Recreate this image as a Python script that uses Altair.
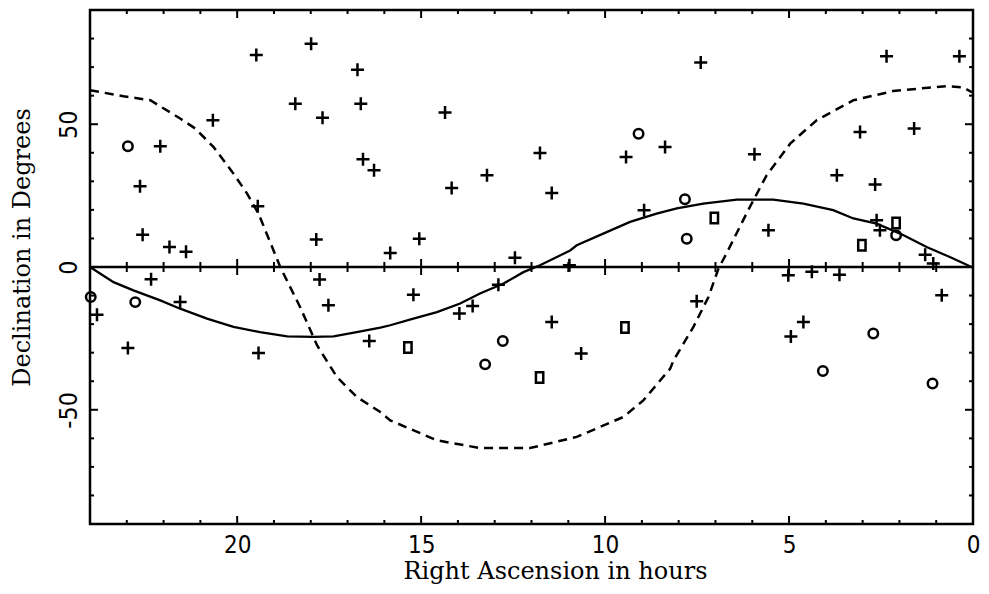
import altair as alt
import pandas as pd

# ---- scatter data (RA hours, Dec degrees) ----
plus_ra = [19.48, 17.99, 16.73, 18.42, 16.64, 17.68, 20.66, 22.09, 16.58, 16.28,
           22.64, 19.44, 22.57, 17.85, 21.84, 21.39, 14.35, 8.37, 11.77, 9.43,
           13.21, 14.17, 11.45, 8.94, 15.05, 15.84, 12.45, 10.97, 7.40, 2.35,
           0.37, 3.07, 1.60, 5.94, 3.70, 2.66, 5.56, 2.62, 2.53, 1.30,
           1.08, 23.81, 22.34, 21.55, 22.97, 19.42, 17.76, 17.52, 16.41, 15.21,
           12.90, 13.60, 13.96, 11.45, 10.65, 7.51, 5.02, 4.38, 3.63, 0.85,
           4.61, 4.95]
plus_dec = [74.2, 78.2, 69.1, 57.2, 57.2, 52.3, 51.4, 42.3, 37.7, 33.9,
            28.3, 21.3, 11.3, 9.6, 7.0, 5.3, 54.1, 42.0, 39.9, 38.5,
            32.1, 27.7, 25.9, 19.9, 9.9, 4.9, 3.2, 0.6, 71.6, 73.8,
            73.8, 47.3, 48.5, 39.5, 32.1, 28.9, 12.9, 16.4, 12.9, 4.3,
            1.2, -16.7, -4.3, -12.3, -28.4, -30.1, -4.4, -13.4, -25.9, -9.7,
            -6.2, -13.7, -16.3, -19.3, -30.3, -12.0, -2.9, -1.7, -2.7, -9.9,
            -19.3, -24.3]

circle_ra = [22.97, 9.09, 7.83, 7.78, 2.09, 23.98, 22.77, 12.78, 13.26, 2.71, 4.08, 1.10]
circle_dec = [42.3, 46.7, 23.7, 9.9, 11.1, -10.5, -12.3, -25.9, -34.1, -23.3, -36.4, -40.8]

square_ra = [7.03, 2.09, 3.02, 15.36, 11.78, 9.46]
square_dec = [17.2, 15.4, 7.6, -28.2, -38.7, -21.2]

# ---- solid curve ----
ecl_ra = [24.0, 23.36, 22.82, 22.09, 21.55, 20.82, 20.10, 19.38, 18.64, 17.93,
          17.38, 16.75, 16.11, 15.84, 15.21, 14.57, 13.94, 13.40, 12.76, 12.22,
          11.77, 11.31, 10.95, 10.77, 10.05, 9.32, 8.60, 8.05, 7.33, 6.42,
          5.43, 4.61, 3.80, 3.25, 2.62, 1.98, 1.26, 0.63, 0.04]
ecl_dec = [0.0, -5.3, -8.2, -11.7, -14.6, -18.1, -21.0, -22.8, -24.3, -24.5,
           -24.3, -22.8, -21.2, -20.4, -18.1, -15.8, -12.8, -9.3, -5.8, -1.8,
           0.6, 3.5, 5.8, 7.6, 11.7, 15.8, 18.7, 20.5, 22.2, 23.6,
           23.6, 22.2, 19.9, 17.0, 15.2, 11.7, 7.0, 3.5, 0.0]

# ---- dashed curve ----
gal_ra = [24.0, 23.09, 22.36, 21.55, 21.14, 20.64, 20.10, 19.73, 19.42, 18.92,
          18.83, 18.29, 17.83, 17.29, 16.75, 16.11, 15.84, 14.57, 13.40, 12.04,
          10.77, 9.50, 8.96, 8.23, 8.14, 7.60, 7.19, 6.92, 6.69, 6.11,
          5.61, 4.97, 4.25, 3.25, 2.17, 1.44, 0.71, 0.27, 0.03]
gal_dec = [61.9, 59.8, 58.4, 52.0, 48.5, 42.0, 32.7, 25.7, 18.7, 2.9,
           0.0, -14.0, -27.4, -38.5, -45.5, -50.8, -53.7, -60.7, -63.4, -63.4,
           -59.5, -52.5, -46.7, -35.6, -32.7, -21.0, -10.5, -0.6, 5.0, 19.9,
           32.1, 43.2, 51.4, 58.4, 61.6, 62.5, 63.3, 62.9, 61.2]

# ---- axis ticks ----
hour_ticks = list(range(0, 25))
major_hours = [0, 5, 10, 15, 20]
deg_ticks = list(range(-90, 91, 10))
major_degs = [-50, 0, 50]
x_labels = [20, 15, 10, 5, 0]
y_labels = [-50, 0, 50]

W, H = 883, 514
X_MIN, X_MAX = 0, 24
Y_MIN, Y_MAX = -90, 90
PX_H = W / (X_MAX - X_MIN)
PX_D = H / (Y_MAX - Y_MIN)

rows = []
for h in hour_ticks:
    L = 8 if h in major_hours else 4
    Lz = 8 if h in major_hours else 5
    rows.append(dict(x=h, x2=h, y=Y_MIN, y2=Y_MIN + L / PX_D))
    rows.append(dict(x=h, x2=h, y=Y_MAX, y2=Y_MAX - L / PX_D))
    rows.append(dict(x=h, x2=h, y=-Lz / PX_D, y2=Lz / PX_D))
for d in deg_ticks:
    L = 8 if d in major_degs else 4
    rows.append(dict(x=X_MAX, x2=X_MAX - L / PX_H, y=d, y2=d))
    rows.append(dict(x=X_MIN, x2=X_MIN + L / PX_H, y=d, y2=d))
ticks_df = pd.DataFrame(rows)

xs = alt.Scale(domain=[X_MIN, X_MAX], reverse=True, nice=False, zero=False)
ys = alt.Scale(domain=[Y_MIN, Y_MAX], nice=False, zero=False)

LABEL_FONT = "Liberation Sans Narrow, DejaVu Sans Condensed, Liberation Sans, sans-serif"
TITLE_FONT = "DejaVu Serif"

x_axis = alt.Axis(values=x_labels, ticks=False, domain=False, grid=False,
                  labelFont=LABEL_FONT, labelFontSize=24, labelColor="black",
                  labelPadding=9, labelFlush=False, labelOverlap=False,
                  labelExpr="'' + datum.value",
                  title="Right Ascension in hours", titleFont=TITLE_FONT,
                  titleFontSize=24, titleFontWeight="normal", titleColor="black",
                  titleX=465, titleY=54, titleBaseline="alphabetic")
y_axis = alt.Axis(values=y_labels, ticks=False, domain=False, grid=False,
                  labelFont=LABEL_FONT, labelFontSize=25, labelColor="black",
                  labelAngle=270, labelAlign="center", labelBaseline="middle",
                  labelPadding=22, labelFlush=False, labelOverlap=False,
                  labelExpr="'' + datum.value",
                  title="Declination in Degrees", titleFont=TITLE_FONT,
                  titleFontSize=24, titleFontWeight="normal", titleColor="black",
                  titleAngle=270, titleX=-68, titleY=237,
                  titleAlign="center", titleBaseline="middle")

pts = pd.concat([
    pd.DataFrame({"ra": plus_ra, "dec": plus_dec, "kind": "plus"}),
    pd.DataFrame({"ra": circle_ra, "dec": circle_dec, "kind": "circle"}),
    pd.DataFrame({"ra": square_ra, "dec": square_dec, "kind": "square"}),
])

X = lambda f: alt.X(f, scale=xs, axis=x_axis)
Y = lambda f: alt.Y(f, scale=ys, axis=y_axis)

zero_line = alt.Chart(pd.DataFrame({"y": [0]})).mark_rule(
    color="black", strokeWidth=2.5).encode(y=Y("y:Q"))

tick_layer = alt.Chart(ticks_df).mark_rule(color="black", strokeWidth=2).encode(
    x=X("x:Q"), x2="x2:Q", y=Y("y:Q"), y2="y2:Q")

ecl_df = pd.DataFrame({"ra": ecl_ra, "dec": ecl_dec, "i": range(len(ecl_ra))})
gal_df = pd.DataFrame({"ra": gal_ra, "dec": gal_dec, "i": range(len(gal_ra))})

ecl = alt.Chart(ecl_df).mark_line(color="black", strokeWidth=2.3).encode(
    x=X("ra:Q"), y=Y("dec:Q"), order="i:Q")
gal = alt.Chart(gal_df).mark_line(color="black", strokeWidth=2.5,
                                  strokeDash=[9, 6]).encode(
    x=X("ra:Q"), y=Y("dec:Q"), order="i:Q")

PLUS = "M-1,0L1,0M0,-1L0,1"
SQUARE = "M-0.7,-1L0.7,-1L0.7,1L-0.7,1Z"

plus_l = alt.Chart(pts[pts.kind == "plus"]).mark_point(
    shape=PLUS, size=169, filled=False, color="black", strokeWidth=2.5, opacity=1).encode(
    x=X("ra:Q"), y=Y("dec:Q"))
circ_l = alt.Chart(pts[pts.kind == "circle"]).mark_point(
    shape="circle", size=90, filled=False, color="black", strokeWidth=2.5, opacity=1).encode(
    x=X("ra:Q"), y=Y("dec:Q"))
sq_l = alt.Chart(pts[pts.kind == "square"]).mark_point(
    shape=SQUARE, size=110, filled=False, color="black", strokeWidth=2.5, opacity=1).encode(
    x=X("ra:Q"), y=Y("dec:Q"))

chart = alt.layer(zero_line, tick_layer, gal, ecl, plus_l, circ_l, sq_l).properties(
    width=W, height=H,
    autosize=alt.AutoSizeParams(type="none"),
    padding={"left": 82, "top": 2, "right": 8, "bottom": 60},
    background="white",
).configure_view(stroke="black", strokeWidth=2.5)

chart.save("out.html", embed_options={"renderer": "svg", "actions": False})
